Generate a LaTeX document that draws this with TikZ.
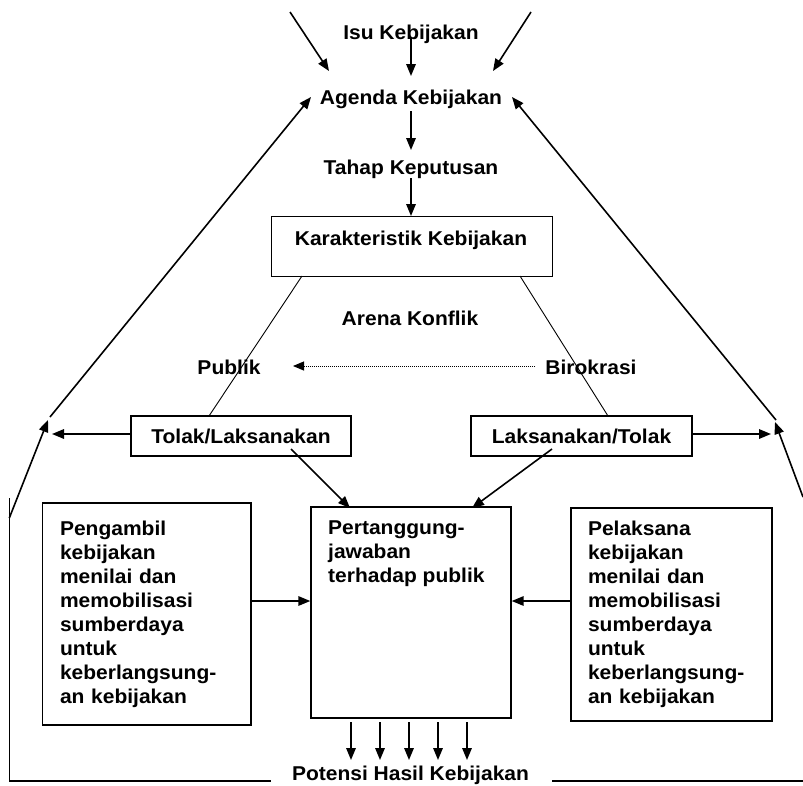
\documentclass[tikz,border=0pt]{standalone}
\usepackage{fontspec}
\setmainfont{Liberation Sans}[FakeStretch=1.05]
\usetikzlibrary{arrows.meta}
\begin{document}
\begin{tikzpicture}[x=1pt,y=-1pt,
  lbl/.style={font=\bfseries\fontsize{20}{24}\selectfont, inner sep=0pt},
  box/.style={draw, line width=1.4pt, inner sep=0pt},
  arr/.style={line width=1.6pt, -{Triangle[length=12pt,width=9.5pt]}},
  thinline/.style={line width=0.9pt},
  frame/.style={line width=1.4pt},
  dotarr/.style={line width=1pt, densely dotted, -{Triangle[length=11pt,width=9pt]}}
]
\fill[white] (0,0) rectangle (803,785);
\useasboundingbox (0,0) rectangle (803,785);

% text nodes
\node[lbl, anchor=base] (isu) at (411,39) {Isu Kebijakan};
\node[lbl, anchor=base] (agenda) at (411,104) {Agenda Kebijakan};
\node[lbl, anchor=base] (tahap) at (411,174) {Tahap Keputusan};
\node[box, minimum width=281, minimum height=60.3, anchor=north west] (kar) at (270.7,215.7) {};
\node[lbl, anchor=base] (kart) at (411,245) {Karakteristik Kebijakan};
\node[lbl, anchor=base] (arena) at (410,325) {Arena Konflik};
\node[lbl, anchor=base] (publik) at (229,374) {Publik};
\node[lbl, anchor=base] (biro) at (591,374) {Birokrasi};
\node[box, lbl, minimum width=220, minimum height=40] (tolak) at (241,436) {Tolak/Laksanakan};
\node[box, lbl, minimum width=221, minimum height=40] (laks) at (581.5,436) {Laksanakan/Tolak};
\node[box, lbl, text width=173.5, inner xsep=17.5, minimum height=222, align=left] (ambil) at (146.75,614)
  {Pengambil\\kebijakan\\menilai dan\\memobilisasi\\sumberdaya\\untuk\\keberlangsung-\\an kebijakan};
\node[box, lbl, text width=167, inner xsep=17, minimum height=213, align=left] (pelak) at (671.5,614.5)
  {Pelaksana\\kebijakan\\menilai dan\\memobilisasi\\sumberdaya\\untuk\\keberlangsung-\\an kebijakan};
\node[box, minimum width=200, minimum height=211] (tanggung) at (411,612.5) {};
\node[lbl, anchor=north west, align=left] (tanggungt) at (328,520.7) {Pertanggung-\\jawaban\\terhadap publik};
\node[lbl, anchor=base] (potensi) at (410.5,780.5) {Potensi Hasil Kebijakan};

% coordinates
\coordinate (tlS) at (290,12);   \coordinate (tlE) at (329,71);
\coordinate (trS) at (531,12);   \coordinate (trE) at (493,71);
\coordinate (c1S) at (411,37);   \coordinate (c1E) at (411,76);
\coordinate (c2S) at (411,111);  \coordinate (c2E) at (411,150);
\coordinate (c3S) at (411,178);  \coordinate (c3E) at (411,216);
\coordinate (ulS) at (50,417);   \coordinate (ulE) at (311,97);
\coordinate (urS) at (776,420);  \coordinate (urE) at (512,97);
\coordinate (llS) at (9.3,518);  \coordinate (llE) at (48,420);
\coordinate (lrS) at (803,497);  \coordinate (lrE) at (775,422);
\coordinate (hlE) at (52,434);   \coordinate (hrE) at (771,434);
\coordinate (kL1) at (302,276);  \coordinate (kL2) at (209,416);
\coordinate (kR1) at (520,276);  \coordinate (kR2) at (608,416);
\coordinate (dS) at (535,366);   \coordinate (dE) at (293,366);
\coordinate (tS) at (291,449);   \coordinate (tE) at (350,508);
\coordinate (lS) at (552,449);   \coordinate (lE) at (472,508);
\coordinate (fTop) at (9.3,498); \coordinate (fBot) at (9.3,781); \coordinate (fL) at (271,781);
\coordinate (fR) at (552,781);   \coordinate (fRe) at (810,781);

% connectors
\draw[arr] (tlS) -- (tlE);
\draw[arr] (trS) -- (trE);
\draw[arr] (c1S) -- (c1E);
\draw[arr] (c2S) -- (c2E);
\draw[arr] (c3S) -- (c3E);
\draw[arr] (ulS) -- (ulE);
\draw[arr] (urS) -- (urE);
\draw[arr] (llS) -- (llE);
\draw[arr] (lrS) -- (lrE);
\draw[arr] (tolak.west |- 0,434) -- (hlE);
\draw[arr] (laks.east |- 0,434) -- (hrE);
\draw[thinline] (kL1) -- (kL2);
\draw[thinline] (kR1) -- (kR2);
\draw[dotarr] (dS) -- (dE);
\draw[arr] (tS) -- (tE);
\draw[arr] (lS) -- (lE);
\draw[arr] (ambil.east |- 0,601) -- (tanggung.west |- 0,601);
\draw[arr] (pelak.west |- 0,601) -- (tanggung.east |- 0,601);
\foreach \x in {351,380,409,438,467} {
  \draw[arr] (\x,722) -- (\x,760);
}
\draw[frame] (fTop) -- (fBot) -- (fL);
\draw[frame] (fR) -- (fRe);
\end{tikzpicture}
\end{document}
